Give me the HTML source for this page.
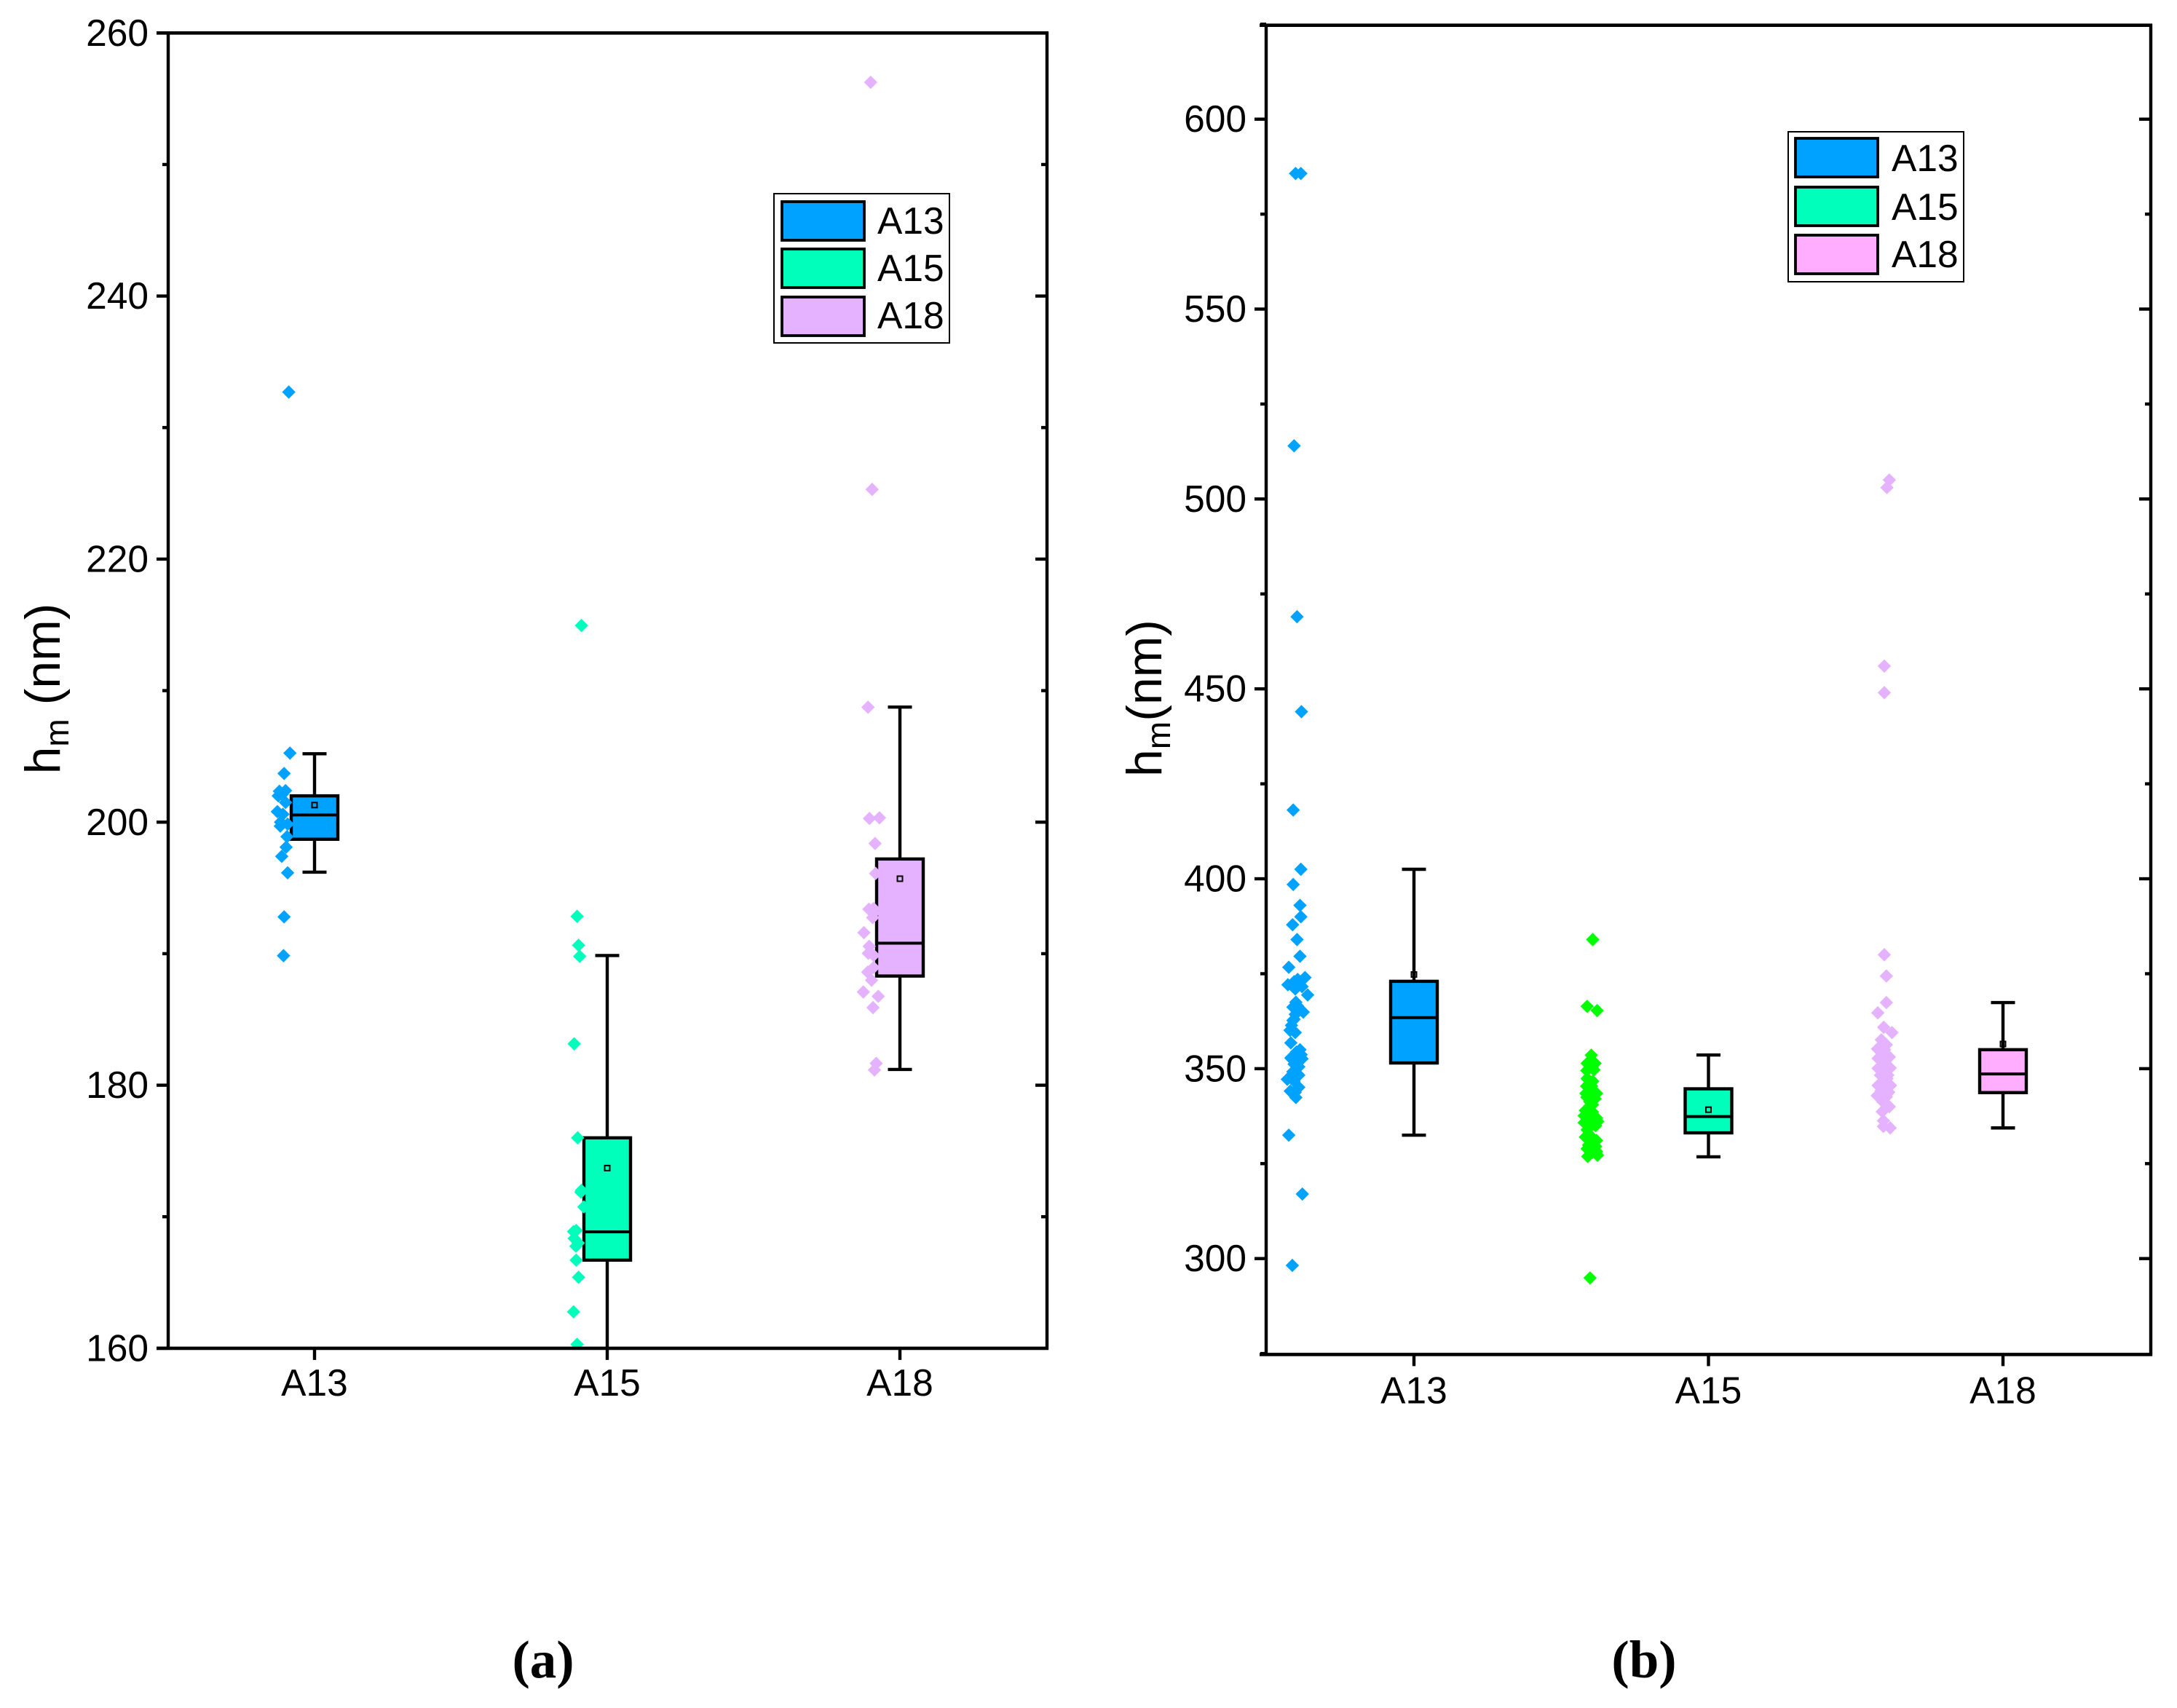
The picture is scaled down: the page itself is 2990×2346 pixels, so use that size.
<!DOCTYPE html>
<html>
<head>
<meta charset="utf-8">
<title>hm box charts</title>
<style>
html,body{margin:0;padding:0;background:#fff;}
svg{display:block;}
text{font-family:"Liberation Sans",sans-serif;fill:#000;}
.cap{font-family:"Liberation Serif",serif;font-weight:bold;}
</style>
</head>
<body>
<svg id="chart" xmlns="http://www.w3.org/2000/svg" width="2990" height="2346" viewBox="0 0 2990 2346">
  <rect x="0" y="0" width="2990" height="2346" fill="#fff"/>
  <defs>
    <clipPath id="clipA"><rect x="231" y="45" width="1207" height="1807"/></clipPath>
    <clipPath id="clipB"><rect x="1739" y="35" width="1215" height="1826"/></clipPath>
  </defs>
  <g id="panelA"></g>
  <g id="panelB"></g>

  <text transform="translate(82,946) rotate(-90)" text-anchor="middle" font-size="68">h<tspan font-size="46" dy="12">m</tspan><tspan dy="-12"> (nm)</tspan></text>
  <text transform="translate(1595,959) rotate(-90)" text-anchor="middle" font-size="68">h<tspan font-size="46" dy="12">m</tspan><tspan dy="-12">(nm)</tspan></text>

  <g>
    <rect x="1063" y="266" width="241" height="205" fill="#fff" stroke="#000" stroke-width="2"/>
    <rect x="1074" y="277" width="113" height="53" fill="#00A2FF" stroke="#000" stroke-width="3.8"/>
    <text x="1205" y="321" font-size="51.5">A13</text>
    <rect x="1074" y="342" width="113" height="53" fill="#00FFBB" stroke="#000" stroke-width="3.8"/>
    <text x="1205" y="386" font-size="51.5">A15</text>
    <rect x="1074" y="408" width="113" height="53" fill="#E5B2FF" stroke="#000" stroke-width="3.8"/>
    <text x="1205" y="451" font-size="51.5">A18</text>
  </g>
  <g>
    <rect x="2456" y="181" width="241" height="206" fill="#fff" stroke="#000" stroke-width="2"/>
    <rect x="2466" y="190" width="113" height="53" fill="#00A2FF" stroke="#000" stroke-width="3.8"/>
    <text x="2598" y="235" font-size="51.5">A13</text>
    <rect x="2466" y="257" width="113" height="53" fill="#00FFBB" stroke="#000" stroke-width="3.8"/>
    <text x="2598" y="302" font-size="51.5">A15</text>
    <rect x="2466" y="323" width="113" height="53" fill="#FFAEFF" stroke="#000" stroke-width="3.8"/>
    <text x="2598" y="367" font-size="51.5">A18</text>
  </g>

  <text class="cap" x="746" y="2304" text-anchor="middle" font-size="73">(a)</text>
  <text class="cap" x="2258" y="2304" text-anchor="middle" font-size="73">(b)</text>
</svg>
<script>
const categories = ['A13', 'A15', 'A18'];

const yTicksA = [160, 180, 200, 220, 240, 260];
const yMinorA = [170, 190, 210, 230, 250];
const yTicksB = [300, 350, 400, 450, 500, 550, 600];
const yMinorB = [275, 325, 375, 425, 475, 525, 575, 625];

// Panel (a) box statistics, one entry per category
const boxLowA = [196.2, 158, 181.2];
const boxQ1A = [198.7, 166.7, 188.3];
const boxMedianA = [200.55, 168.85, 190.8];
const boxQ3A = [202, 176, 197.2];
const boxHighA = [205.2, 189.86, 208.75];
const boxMeanA = [201.3, 173.7, 195.7];

// Panel (b) box statistics
const boxLowB = [332.5, 326.8, 334.4];
const boxQ1B = [351.5, 333.1, 343.7];
const boxMedianB = [363.45, 337.4, 348.6];
const boxQ3B = [373, 344.7, 355];
const boxHighB = [402.5, 353.6, 367.4];
const boxMeanB = [374.8, 339.2, 356.5];

// Panel (a) raw points: values and category-axis offset (jitter)
const a13ValuesA = [232.7, 205.25, 203.7, 202.4, 202.35, 202, 202.1, 201.5, 200.8, 200.6, 200, 199.7, 199.85, 198.9, 198.1, 197.4, 196.15, 192.8, 189.85];
const a13OffsetsA = [-.088, -.084, -.104, -.099, -.120, -.124, -.111, -.099, -.127, -.108, -.116, -.117, -.092, -.094, -.097, -.112, -.092, -.104, -.106];
const a15ValuesA = [214.95, 192.84, 190.64, 189.8, 183.15, 176, 172, 171.87, 170.75, 168.95, 168.87, 168.35, 168, 167.76, 166.7, 165.4, 162.77, 160.3];
const a15OffsetsA = [-.088, -.103, -.098, -.094, -.113, -.101, -.088, -.09, -.08, -.106, -.115, -.113, -.099, -.107, -.106, -.098, -.115, -.103];
const a18ValuesA = [256.25, 225.3, 208.74, 200.28, 200.33, 198.38, 196.1, 193.38, 193.43, 193.09, 192.74, 191.6, 190.56, 190.03, 189.87, 188.95, 188.6, 187.98, 187.09, 186.76, 185.9, 181.66, 181.16];
const a18OffsetsA = [-.1, -.095, -.109, -.104, -.07, -.085, -.083, -.106, -.09, -.09, -.093, -.123, -.105, -.108, -.09, -.09, -.11, -.097, -.125, -.074, -.092, -.081, -.087];

// Panel (b) raw points
const a13ValuesB = [585.7, 585.7, 514, 469, 444, 418.1, 402.5, 398.5, 393, 390, 387.9, 384, 379.6, 376.7, 374, 373.5, 372.9, 372.1, 371.6, 371, 371.9, 369.4, 367.5, 366.2, 366.5, 364.9, 364.3, 363, 362.7, 361.4, 360.1, 359.5, 356.8, 355, 354.4, 353.7, 352.8, 352.6, 352.4, 351.2, 350.5, 349.2, 348.3, 347.2, 346.7, 345.1, 344.1, 343.8, 342.4, 332.5, 317, 298.2];
const a13OffsetsB = [-.402, -.384, -.407, -.397, -.382, -.410, -.384, -.410, -.387, -.384, -.412, -.397, -.387, -.425, -.370, -.395, -.407, -.428, -.380, -.403, -.395, -.361, -.401, -.411, -.395, -.376, -.403, -.407, -.411, -.416, -.421, -.403, -.418, -.387, -.399, -.383, -.418, -.380, -.399, -.407, -.391, -.411, -.391, -.430, -.407, -.391, -.420, -.403, -.401, -.425, -.379, -.413];
const a15ValuesB = [384, 366.4, 365.3, 353.56, 351.4, 351.4, 350.7, 349.5, 349.7, 347.4, 346.7, 345.4, 345.4, 343.5, 343.5, 343.7, 342.5, 342.1, 341.3, 340.5, 339.4, 339, 337.6, 337, 335.8, 336.1, 337, 335, 335, 333.9, 332, 331.1, 332.2, 329.9, 329.5, 328.9, 328.2, 326.9, 327.2, 327.9, 331.2, 338.6, 337.6, 294.9];
const a15OffsetsB = [-.393, -.412, -.378, -.398, -.412, -.385, -.399, -.413, -.389, -.412, -.393, -.414, -.397, -.416, -.380, -.399, -.413, -.385, -.403, -.394, -.407, -.418, -.422, -.380, -.422, -.376, -.399, -.403, -.383, -.412, -.418, -.380, -.399, -.407, -.383, -.412, -.380, -.410, -.377, -.395, -.403, -.394, -.407, -.402];
const a18ValuesB = [505, 503, 456, 449, 380, 374.4, 367.4, 364.7, 360.9, 359.5, 357.6, 356.3, 355.2, 355, 353.1, 352.7, 352.1, 350.2, 350.1, 349.6, 348.3, 348.3, 347.4, 345.6, 345.6, 345.1, 344.2, 343.8, 342.9, 342.6, 341.3, 340, 338.7, 336.3, 334.8, 334.4, 347, 347.7, 352.1, 353.4];
const a18OffsetsB = [-.386, -.394, -.403, -.403, -.403, -.396, -.396, -.425, -.405, -.377, -.413, -.396, -.426, -.402, -.386, -.424, -.405, -.383, -.424, -.406, -.416, -.391, -.394, -.424, -.382, -.405, -.414, -.388, -.427, -.396, -.408, -.386, -.410, -.406, -.406, -.383, -.398, -.405, -.398, -.410];

function yScaleA(v) { return 1851.9 - (v - 160) * 18.066; }
function yScaleB(v) { return 1728.7 - (v - 300) * 5.2167; }
function xScaleA(c) { return 432 + c * 402; }
function xScaleB(c) { return 1942 + c * 404.5; }

const NS = 'http://www.w3.org/2000/svg';

function make(parent, tag, attrs) {
  const el = document.createElementNS(NS, tag);
  for (const k in attrs) el.setAttribute(k, attrs[k]);
  parent.appendChild(el);
  return el;
}

function line(parent, x1, y1, x2, y2, w, name) {
  const el = make(parent, 'line', { x1: x1, y1: y1, x2: x2, y2: y2, stroke: '#000', 'stroke-width': w });
  
  
  return el;
}

function drawPanel(root, x, y, o) {
  const marks = make(root, 'g', { 'clip-path': 'url(#' + o.clip + ')' });
  
  

  categories.forEach(function (cat, i) {
    const cx = x(i);
    const slug = cat.toLowerCase();
    line(marks, cx, y(o.high[i]), cx, y(o.low[i]), 4.4, 'whisker-' + slug);
    line(marks, cx - 16.5, y(o.high[i]), cx + 16.5, y(o.high[i]), 4.4, 'whisker-cap-high-' + slug);
    line(marks, cx - 16.5, y(o.low[i]), cx + 16.5, y(o.low[i]), 4.4, 'whisker-cap-low-' + slug);
    const box = make(marks, 'rect', {
      x: cx - 32, y: y(o.q3[i]), width: 64, height: y(o.q1[i]) - y(o.q3[i]),
      fill: o.boxColors[i], stroke: '#000', 'stroke-width': 4.4
    });
    
    
    line(marks, cx - 32, y(o.median[i]), cx + 32, y(o.median[i]), 4, 'median-' + slug);
    const mean = make(marks, 'rect', {
      x: cx - 3.5, y: y(o.mean[i]) - 3.5, width: 7, height: 7,
      fill: 'none', stroke: '#000', 'stroke-width': 2
    });
    
    
  });

  categories.forEach(function (cat, i) {
    const slug = cat.toLowerCase();
    const vals = o.values[i];
    const offs = o.offsets[i];
    vals.forEach(function (v, j) {
      const px = x(i + offs[j]);
      const py = y(v);
      const h = 9.2;
      const d = make(marks, 'polygon', {
        points: (px - h) + ',' + py + ' ' + px + ',' + (py - h) + ' ' + (px + h) + ',' + py + ' ' + px + ',' + (py + h),
        fill: o.pointColors[i]
      });
      
      
    });
  });

  // frame
  line(root, o.left, o.top - 2, o.left, o.bottom + 2, 4.4, 'y-axis-line');
  line(root, o.right, o.top - 2, o.right, o.bottom + 2, 4.4, 'right-axis-line');
  line(root, o.left - o.capExt, o.top, o.right + 2, o.top, 4.6, 'top-axis-line');
  line(root, o.left - o.capExt, o.bottom, o.right + 2, o.bottom, 4.6, 'x-axis-line');

  // y ticks
  o.ticks.forEach(function (t) {
    const py = y(t);
    line(root, o.left - 16, py, o.left, py, 4.4, 'y-tick-' + t);
    if (py > o.top + 2 && py < o.bottom - 2) {
      line(root, o.right - 16, py, o.right, py, 4.4, 'right-tick-' + t);
    }
    const lab = make(root, 'text', {
      x: o.left - 27, y: py + 17.5, 'text-anchor': 'end', 'font-size': 51.5
    });
    
    
    lab.textContent = t;
  });
  o.minor.forEach(function (t) {
    const py = y(t);
    line(root, o.left - 8, py, o.left, py, 4.4, 'y-minor-tick-' + t);
    if (py > o.top + 2 && py < o.bottom - 2) {
      line(root, o.right - 8, py, o.right, py, 4.4, 'right-minor-tick-' + t);
    }
  });

  // x ticks
  categories.forEach(function (cat, i) {
    const slug = cat.toLowerCase();
    line(root, x(i), o.bottom, x(i), o.bottom + 16, 4.4, 'x-tick-' + slug);
    const lab = make(root, 'text', {
      x: x(i), y: o.bottom + o.labelDrop, 'text-anchor': 'middle', 'font-size': 51.5
    });
    
    
    lab.textContent = cat;
  });
}

drawPanel(document.getElementById('panelA'), xScaleA, yScaleA, {
  id: 'panel-a', clip: 'clipA', left: 231, right: 1438, top: 45.3, bottom: 1851.9, capExt: 16, labelDrop: 65,
  ticks: yTicksA, minor: yMinorA,
  low: boxLowA, q1: boxQ1A, median: boxMedianA, q3: boxQ3A, high: boxHighA, mean: boxMeanA,
  boxColors: ['#00A2FF', '#00FFBB', '#E5B2FF'],
  pointColors: ['#00A2FF', '#00FFBB', '#E5B2FF'],
  values: [a13ValuesA, a15ValuesA, a18ValuesA],
  offsets: [a13OffsetsA, a15OffsetsA, a18OffsetsA]
});

drawPanel(document.getElementById('panelB'), xScaleB, yScaleB, {
  id: 'panel-b', clip: 'clipB', left: 1739, right: 2954, top: 34.7, bottom: 1860.4, capExt: 9, labelDrop: 67,
  ticks: yTicksB, minor: yMinorB,
  low: boxLowB, q1: boxQ1B, median: boxMedianB, q3: boxQ3B, high: boxHighB, mean: boxMeanB,
  boxColors: ['#00A2FF', '#00FFBB', '#FFAEFF'],
  pointColors: ['#00A2FF', '#00FF00', '#E5B2FF'],
  values: [a13ValuesB, a15ValuesB, a18ValuesB],
  offsets: [a13OffsetsB, a15OffsetsB, a18OffsetsB]
});
</script>
</body>
</html>
